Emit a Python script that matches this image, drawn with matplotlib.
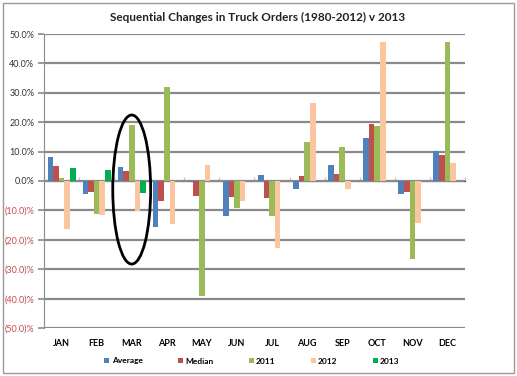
'''
  - Sequential changes in truck orders, grouped bars by month.
'''

import numpy as np
import matplotlib
matplotlib.use('Agg')
from matplotlib import pyplot as plt
from matplotlib.patches import Ellipse, Rectangle
from matplotlib.ticker import FuncFormatter

plt.rcParams['font.family'] = ['Lato', 'DejaVu Sans']

months = ['JAN', 'FEB', 'MAR', 'APR', 'MAY', 'JUN',
          'JUL', 'AUG', 'SEP', 'OCT', 'NOV', 'DEC']
average = [8.3, -4.5, 4.9, -15.5, -0.3, -11.8, 2.0, -2.6, 5.4, 14.5, -4.3, 10.2]
median = [5.1, -3.6, 3.4, -6.7, -5.2, -5.4, -5.9, 1.6, 2.5, 19.3, -3.7, 8.8]
y2011 = [1.1, -11.1, 19.0, 32.1, -39.0, -9.1, -11.8, 13.3, 11.6, 18.6, -26.5, 47.2]
y2012 = [-16.4, -11.5, -10.3, -14.5, 5.4, -6.9, -22.7, 26.5, -2.8, 47.2, -14.2, 6.0]
y2013 = [4.3, 3.7, -4.0] + [np.nan] * 9

series = [('Average', average, '#4F81BD'),
          ('Median', median, '#C0504D'),
          ('2011', y2011, '#9BBB59'),
          ('2012', y2012, '#F9C6A0'),
          ('2013', y2013, '#00B050')]

GRID = '#8A8A8A'
BAR_W = 0.16


def fmt(v, pos):
  if v < 0:
    return '(%.1f)%%' % abs(v)
  return '%.1f%%' % v


fig = plt.figure(figsize=(5.17, 3.76), dpi=100)
ax = fig.add_axes([44/517., 1 - 328/376., (465-44)/517., (328-34)/376.])

x = np.arange(len(months))
for i, (name, vals, col) in enumerate(series):
  ax.bar(x + (i - 2) * BAR_W, vals, BAR_W, color=col, label=name, zorder=3)

ax.set_xlim(-0.5, 11.5)
ax.set_ylim(-50, 50)
ax.set_yticks(np.arange(-50, 51, 10))
ax.yaxis.set_major_formatter(FuncFormatter(fmt))
ax.grid(axis='y', color=GRID, lw=1.6, zorder=0)
ax.set_axisbelow(True)

for s in ['top', 'right', 'bottom']:
  ax.spines[s].set_visible(False)
ax.spines['left'].set_color(GRID)
ax.tick_params(axis='y', colors=GRID, length=4, width=1.2, labelsize=6.5, pad=3)
for lbl in ax.get_yticklabels():
  lbl.set_color('#C0504D' if lbl.get_text().startswith('(') else '#333333')

ax.set_xticks(x)
ax.set_xticklabels(months, fontsize=6.5, fontweight='bold')
ax.tick_params(axis='x', length=0, pad=8)

# zero axis with category tick marks
zero = ax.secondary_xaxis(0.5)
zero.spines['bottom'].set_color('#C8C8C8')
zero.spines['bottom'].set_linewidth(1.4)
zero.set_xticks(np.arange(-0.5, 12, 1))
zero.set_xticklabels([])
zero.tick_params(axis='x', colors='#C8C8C8', length=3, width=1)

# highlight around March
ax.add_patch(Ellipse((2, -2.9), 1.08, 50.7, fill=False, lw=2, edgecolor='black',
                     zorder=5, clip_on=False))

fig.text(258/517., 1 - 17/376., 'Sequential Changes in Truck Orders (1980-2012) v 2013',
         ha='center', va='center', fontsize=8.5, fontweight='bold', color='#222222')

leg = ax.legend(loc='center', bbox_to_anchor=(252/517., 1 - 361/376.),
                bbox_transform=fig.transFigure, ncol=5, frameon=False,
                handlelength=0.6, handleheight=0.6, handletextpad=0.3,
                columnspacing=4.2, prop={'size': 6, 'weight': 'bold'})

fig.patches.append(Rectangle((3/517., 3/376.), 511/517., 370/376.,
                             transform=fig.transFigure, fill=False,
                             edgecolor='#9A9A9A', lw=1))

plt.savefig('out.png')
